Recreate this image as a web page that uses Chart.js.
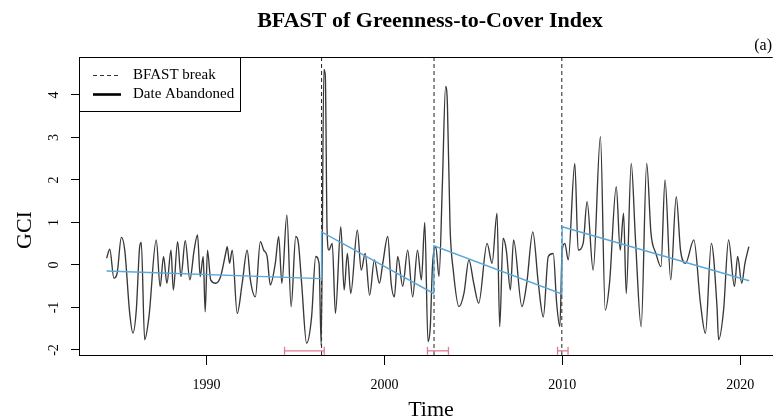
<!DOCTYPE html>
<html>
<head>
<meta charset="utf-8">
<script src="https://cdn.jsdelivr.net/npm/chart.js@4.4.1/dist/chart.umd.min.js"></script>
<style>
html,body{margin:0;padding:0;background:#fff;}
#wrap{width:778px;height:420px;position:relative;}
</style>
</head>
<body>
<div id="wrap"><canvas id="c"></canvas></div>
<script>
// ---- data ----
const gciTime = [1984.39,1984.57,1984.80,1984.98,1985.22,1985.41,1985.69,1985.87,1986.06,1986.25,1986.34,1986.53,1986.77,1987.18,1987.40,1987.59,1987.78,1988.01,1988.14,1988.38,1988.57,1988.81,1989.07,1989.31,1989.50,1989.65,1989.82,1989.93,1990.06,1990.24,1990.52,1990.80,1991.08,1991.17,1991.30,1991.45,1991.73,1992.01,1992.29,1992.47,1992.75,1993.03,1993.22,1993.41,1993.59,1993.87,1994.06,1994.24,1994.52,1994.76,1995.02,1995.17,1995.35,1995.63,1995.91,1996.14,1996.33,1996.45,1996.60,1996.68,1996.78,1996.88,1997.07,1997.25,1997.55,1997.74,1997.92,1998.11,1998.48,1998.70,1998.92,1999.17,1999.44,1999.72,1999.91,2000.19,2000.38,2000.56,2000.75,2001.03,2001.31,2001.59,2001.86,2002.08,2002.27,2002.45,2002.58,2002.70,2002.89,2003.07,2003.26,2003.44,2003.54,2003.69,2003.87,2004.19,2004.47,2004.75,2005.02,2005.30,2005.77,2006.05,2006.33,2006.48,2006.67,2006.85,2007.08,2007.26,2007.73,2008.00,2008.34,2008.65,2008.93,2009.21,2009.49,2009.68,2009.86,2009.99,2010.14,2010.33,2010.70,2010.89,2011.17,2011.39,2011.73,2012.14,2012.41,2012.65,2013.03,2013.25,2013.44,2013.59,2013.87,2014.11,2014.43,2014.74,2014.98,2015.26,2015.54,2015.77,2016.09,2016.40,2016.64,2016.92,2017.39,2017.76,2018.04,2018.37,2018.69,2018.78,2019.06,2019.34,2019.67,2019.85,2020.08,2020.26,2020.48];
const gciValue = [0.16,0.37,-0.31,-0.20,0.65,0.35,-1.14,-1.60,-1.06,0.43,0.53,-1.76,-1.22,0.59,-0.51,0.20,-0.43,0.35,-0.59,0.55,-0.27,0.57,-0.35,0.35,0.71,-0.27,0.20,-1.10,0.35,-0.35,-0.43,-0.27,0.27,0.43,0.04,0.35,-1.14,-0.43,0.35,-0.35,-0.75,0.55,0.35,0.20,-0.47,0.04,0.67,-0.43,1.18,-0.98,0.67,0.51,-0.43,-1.84,-1.22,0.20,0.04,-1.90,4.60,4.45,0.82,0.35,0.51,-1.14,0.90,-0.59,0.27,-0.67,0.82,-0.12,0.27,-0.71,0.12,-0.43,0.04,0.67,-0.43,-0.75,0.20,-0.50,0.35,-0.75,0.35,-0.35,1.00,-1.80,-1.45,-0.04,0.43,-0.27,1.92,4.20,3.80,0.90,-0.12,-0.98,-0.67,0.12,-0.43,-0.90,0.51,0.04,1.22,-1.45,0.63,0.35,-0.59,0.59,-0.98,-0.43,0.78,-0.43,-1.22,0.20,0.27,-0.90,-1.45,0.35,0.51,0.12,2.39,0.35,0.51,1.49,-0.12,3.02,-1.06,-0.43,1.84,0.35,1.22,-0.67,2.39,0.59,-1.45,2.39,0.75,0.27,-0.04,2.00,-0.35,1.61,0.35,0.04,0.59,-0.90,-1.61,0.51,-0.98,-1.76,-1.06,0.59,-0.51,0.20,-0.43,0.04,0.43];
const trendTime = [1984.39,1996.45,1996.47,2002.77,2002.79,2009.97,2009.99,2020.50];
const trendValue = [-0.14,-0.32,0.78,-0.67,0.45,-0.68,0.90,-0.37];
const breakYears = [1996.47,2002.79,2009.97];
const ciLow  = [1994.39,2002.42,2009.73];
const ciHigh = [1996.62,2003.60,2010.32];
const ciLevel = -2.02;
const xTicks = [1990,2000,2010,2020];
const yTicks = [-2,-1,0,1,2,3,4];
const titleText = 'BFAST of Greenness-to-Cover Index';
const panelTag = '(a)';
const xTitle = 'Time';
const yTitle = 'GCI';
const legendLabels = ['BFAST break','Date Abandoned'];

// ---- chart ----
const X_MIN = 1982.84, X_MAX = 2021.82, Y_MIN = -2.118, Y_MAX = 4.894;
const SERIF = "'Liberation Serif','Times New Roman',serif";

const datasets = [];
// break lines
breakYears.forEach(b => datasets.push({
  data:[{x:b,y:Y_MIN},{x:b,y:Y_MAX}], showLine:true, borderColor:'#222',
  borderWidth:1, borderDash:[4,3], pointRadius:0, order:3
}));
// confidence intervals
ciLow.forEach((lo,i) => datasets.push({
  data:[{x:lo,y:ciLevel},{x:ciHigh[i],y:ciLevel}], showLine:true,
  borderColor:'#e27a90', borderWidth:1.3, pointStyle:'line', pointRotation:90,
  pointRadius:4, pointBorderColor:'#e27a90', pointBorderWidth:1.3, order:2, clip:false
}));
// series
datasets.push({
  data: gciTime.map((t,i)=>({x:t,y:gciValue[i]})), showLine:true,
  borderColor:'#383838', borderWidth:1.35, pointRadius:0, cubicInterpolationMode:'monotone', order:1
});
// trend
datasets.push({
  data: trendTime.map((t,i)=>({x:t,y:trendValue[i]})), showLine:true,
  borderColor:'#5aa7d8', borderWidth:1.4, pointRadius:0, order:0
});

const deco = {
  id:'deco',
  afterDraw(chart){
    const ctx = chart.ctx, a = chart.chartArea, ys = chart.scales.y;
    ctx.save();
    // top border
    ctx.strokeStyle = '#000'; ctx.lineWidth = 1;
    ctx.beginPath(); ctx.moveTo(a.left, a.top+0.5); ctx.lineTo(a.right, a.top+0.5); ctx.stroke();
    // title
    ctx.fillStyle = '#000';
    ctx.textAlign = 'center'; ctx.textBaseline = 'middle';
    ctx.font = "bold 22px " + SERIF;
    ctx.fillText(titleText, 430, 21);
    // panel tag
    ctx.font = "16px " + SERIF;
    ctx.textAlign = 'right'; ctx.textBaseline = 'alphabetic';
    ctx.fillText(panelTag, 772, 50);
    // x title
    ctx.font = "22px " + SERIF; ctx.textAlign = 'center';
    ctx.fillText(xTitle, 431, 416);
    // y title
    ctx.save(); ctx.translate(25, 230); ctx.rotate(-Math.PI/2);
    ctx.textBaseline = 'middle'; ctx.fillText(yTitle, 0, 0); ctx.restore();
    // y tick labels (rotated like R)
    ctx.font = "14px " + SERIF;
    yTicks.forEach(v => {
      const py = ys.getPixelForValue(v);
      ctx.save(); ctx.translate(54, py); ctx.rotate(-Math.PI/2);
      ctx.textAlign = 'center'; ctx.textBaseline = 'middle';
      ctx.fillText(String(v), 0, 0); ctx.restore();
    });
    // legend
    ctx.fillStyle = '#fff';
    ctx.fillRect(a.left, a.top, 161, 54);
    ctx.strokeStyle = '#000'; ctx.lineWidth = 1;
    ctx.strokeRect(a.left+0.5, a.top+0.5, 161, 54);
    ctx.beginPath(); ctx.setLineDash([4,3]); ctx.strokeStyle = '#333';
    ctx.moveTo(93, 75.5); ctx.lineTo(121, 75.5); ctx.stroke();
    ctx.setLineDash([]); ctx.lineWidth = 2.6; ctx.strokeStyle = '#000';
    ctx.beginPath(); ctx.moveTo(93, 94.5); ctx.lineTo(121, 94.5); ctx.stroke();
    ctx.fillStyle = '#000'; ctx.font = "15px " + SERIF;
    ctx.textAlign = 'left'; ctx.textBaseline = 'middle';
    ctx.fillText(legendLabels[0], 133, 75);
    ctx.fillText(legendLabels[1], 133, 94);
    ctx.restore();
  }
};

new Chart(document.getElementById('c'), {
  type:'scatter',
  data:{datasets},
  options:{
    responsive:true, maintainAspectRatio:false, animation:false, devicePixelRatio:1,
    layout:{padding:{top:57,left:0,right:0,bottom:0}},
    plugins:{legend:{display:false}, tooltip:{enabled:false}, title:{display:false}},
    scales:{
      x:{
        type:'linear', min:X_MIN, max:X_MAX,
        afterBuildTicks:s=>{ s.ticks = xTicks.map(v=>({value:v})); },
        afterFit:s=>{ s.height = 65; },
        grid:{drawOnChartArea:false, drawTicks:true, tickLength:10, tickColor:'#000', tickWidth:1},
        border:{display:true, color:'#000', width:1},
        ticks:{font:{family:SERIF, size:14}, color:'#000', padding:12, maxRotation:0, callback:v=>String(v)}
      },
      y:{
        type:'linear', min:Y_MIN, max:Y_MAX,
        afterBuildTicks:s=>{ s.ticks = yTicks.map(v=>({value:v})); },
        afterFit:s=>{ s.width = 79; },
        grid:{drawOnChartArea:false, drawTicks:true, tickLength:8, tickColor:'#000', tickWidth:1},
        border:{display:true, color:'#000', width:1},
        ticks:{display:false}
      }
    }
  },
  plugins:[deco]
});
</script>
</body>
</html>
